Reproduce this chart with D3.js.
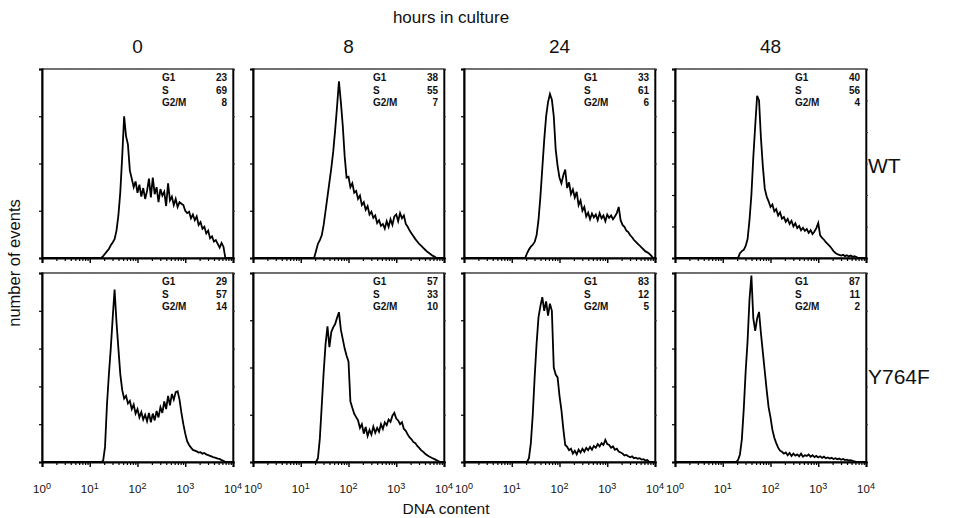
<!DOCTYPE html>
<html>
<head>
<meta charset="utf-8">
<script src="https://cdn.jsdelivr.net/npm/d3@7"></script>
<style>
  html, body { margin: 0; padding: 0; background: #fff; }
  svg { display: block; font-family: "Liberation Sans", Arial, Helvetica, sans-serif; }
</style>
</head>
<body>
<svg id="chart" width="961" height="518"></svg>
<script>
// Time points (columns) and strains (rows)
const hours = ["0", "8", "24", "48"];
const strains = ["WT", "Y764F"];

// Cell-cycle phase percentages shown inside each histogram
const phaseLabels = ["G1", "S", "G2/M"];
const phaseWT    = [[23, 69, 8], [38, 55, 7], [33, 61, 6], [40, 56, 4]];
const phaseY764F = [[29, 57, 14], [57, 33, 10], [83, 12, 5], [87, 11, 2]];

// DNA content axis (log10 decades) and count axis tick step
const xDecades = [0, 1, 2, 3, 4];
const yTickStep = 100;
const yMaxWT    = [400, 400, 400, 600];
const yMaxY764F = [500, 400, 400, 500];

// Histogram channels: first channel (log10 DNA content) and channel width
const binWidth = 0.04;
const startWT    = [1.24, 1.28, 1.28, 1.32];
const startY764F = [1.24, 1.28, 1.32, 1.28];

// Event counts per channel
const countsWT0 = [0,4,9,14,19,27,33,40,58,90,140,215,300,258,240,185,168,150,162,138,155,130,148,125,142,168,128,170,135,150,118,146,132,140,110,158,122,130,112,125,108,118,115,112,100,95,98,84,92,80,88,70,76,62,66,52,58,42,46,35,38,30,22,32,24,0];
const countsWT8 = [0,15,30,38,48,70,100,130,160,190,225,270,320,374,330,280,215,170,172,150,158,138,142,125,132,112,118,102,110,92,98,85,90,74,80,68,72,62,78,66,82,70,88,92,78,95,84,90,72,66,58,52,46,40,35,30,26,22,18,14,11,8,5,3,0];
const countsWT24 = [0,10,18,24,28,34,48,80,130,190,250,300,330,347,335,300,230,195,170,158,175,187,148,160,135,145,128,140,112,122,100,108,88,96,82,94,86,92,80,95,84,90,78,92,85,90,82,88,95,108,80,70,66,58,55,48,44,38,34,30,26,22,18,14,12,9,5,0];
const countsWT48 = [0,15,22,26,38,60,120,200,320,420,515,500,380,290,220,195,180,162,170,148,155,135,145,125,130,115,124,108,118,100,110,95,102,88,96,86,92,80,88,76,84,95,111,72,64,58,50,44,38,30,22,16,12,10,8,10,6,9,5,8,4,6,3,0];
const countsY0 = [0,3,40,150,230,300,380,456,370,300,232,190,168,175,155,162,140,152,128,140,118,132,112,125,108,130,105,128,110,135,118,145,130,160,140,175,150,180,165,185,187,165,130,100,75,55,45,38,32,30,28,25,26,22,24,20,18,16,14,12,11,9,8,5,3,0];
const countsY8 = [0,0,8,50,120,190,250,287,243,275,285,292,305,317,280,260,240,225,213,128,115,102,95,88,72,80,60,74,55,68,58,75,62,72,64,80,70,84,78,90,85,98,104,92,88,80,84,70,66,58,52,48,42,40,34,30,25,22,18,15,12,10,8,6,4,2,0];
const countsY24 = [0,8,40,100,180,250,306,330,349,320,340,310,335,320,200,185,179,140,110,70,36,32,25,28,18,24,16,26,20,28,22,30,25,32,26,34,30,38,33,40,36,47,38,36,30,33,26,28,22,20,18,14,15,12,10,12,8,9,7,8,5,6,3,4,0];
const countsY48 = [0,5,20,60,140,240,320,430,493,380,347,380,397,340,290,240,190,145,118,85,64,50,38,30,27,22,25,18,24,16,22,17,20,15,22,14,18,16,20,14,18,13,16,12,15,11,14,10,12,9,11,8,10,7,9,6,8,5,6,4,5,3,2,0];

// Assemble panel descriptors from the arrays above
const panels = [];
const rowsData = [
  { strain: "WT",    phases: phaseWT,    yMax: yMaxWT,    start: startWT,    counts: [countsWT0, countsWT8, countsWT24, countsWT48] },
  { strain: "Y764F", phases: phaseY764F, yMax: yMaxY764F, start: startY764F, counts: [countsY0, countsY8, countsY24, countsY48] }
];
rowsData.forEach((r, ri) => {
  hours.forEach((h, ci) => {
    panels.push({
      row: ri, col: ci, hour: h,
      phases: r.phases[ci], yMax: r.yMax[ci],
      points: r.counts[ci].map((c, i) => ({ x: Math.pow(10, r.start[ci] + i * binWidth), y: c }))
    });
  });
});

// Layout: 4 columns of 191px panels, 2 rows of 189px panels
const panelW = 191, panelH = 189;
const colGap = 20, rowGap = 15;
const colLeft = d3.scaleBand().domain(hours)
  .range([42, 42 + 4 * panelW + 3 * colGap])
  .paddingInner(colGap / (panelW + colGap));
const rowTop = d3.scaleBand().domain(strains)
  .range([69, 69 + 2 * panelH + rowGap])
  .paddingInner(rowGap / (panelH + rowGap));

const svg = d3.select("#chart");

panels.forEach(p => {
  const x0 = colLeft(p.hour);
  const y0 = rowTop(strains[p.row]);
  const g = svg.append("g").attr("transform", `translate(${x0},${y0})`);

  const x = d3.scaleLog().domain([1, 1e4]).range([0, panelW]);
  const y = d3.scaleLinear().domain([0, p.yMax]).range([panelH, 0]);

  // Frame
  g.append("rect")
    .attr("x", 0).attr("y", 0).attr("width", panelW).attr("height", panelH)
    .attr("fill", "none").attr("stroke", "#111").attr("stroke-width", 1.2);

  // Faint dotted marks along the top edge
  g.append("line")
    .attr("x1", 0).attr("x2", panelW).attr("y1", 0.5).attr("y2", 0.5)
    .attr("stroke", "#777").attr("stroke-width", 1).attr("stroke-dasharray", "1,2");

  // Histogram trace
  const line = d3.line().x(d => x(d.x)).y(d => y(d.y)).curve(d3.curveLinear);
  const pts = [{ x: 1, y: 0 }].concat(p.points, [{ x: 1e4, y: 0 }]);
  g.append("path")
    .datum(pts)
    .attr("d", line)
    .attr("fill", "none")
    .attr("stroke", "#000")
    .attr("stroke-width", 1.8)
    .attr("stroke-linejoin", "miter");

  // Count axis ticks (left, outward) and right-edge ticks
  const yTicks = d3.range(0, p.yMax + 1, yTickStep);
  const yl = g.append("g").call(d3.axisLeft(y).tickValues(yTicks).tickSize(3).tickFormat(""));
  yl.select(".domain").attr("stroke", "#000").attr("stroke-width", 2);
  yl.selectAll(".tick line").attr("stroke", "#000").attr("stroke-width", 1.2);

  const yr = g.append("g").attr("transform", `translate(${panelW},0)`)
    .call(d3.axisRight(y).tickValues(yTicks).tickSize(2).tickFormat(""));
  yr.select(".domain").attr("stroke", "#000").attr("stroke-width", 1.6);
  yr.selectAll(".tick line").attr("stroke", "#333").attr("stroke-width", 1);

  // DNA content axis: minor log ticks plus decade ticks
  const minor = x.ticks().filter(v => !xDecades.includes(Math.round(Math.log10(v) * 1000) / 1000));
  const xm = g.append("g").attr("transform", `translate(0,${panelH})`)
    .call(d3.axisBottom(x).tickValues(minor).tickSize(3).tickFormat(""));
  xm.select(".domain").remove();
  xm.selectAll(".tick line").attr("stroke", "#000").attr("stroke-width", 1.2);

  const xM = g.append("g").attr("transform", `translate(0,${panelH})`)
    .call(d3.axisBottom(x).tickValues(xDecades.map(d => Math.pow(10, d))).tickSize(5).tickFormat(""));
  xM.select(".domain").attr("stroke", "#000").attr("stroke-width", 2);
  xM.selectAll(".tick line").attr("stroke", "#000").attr("stroke-width", 1.4);

  // Decade labels on the bottom row
  if (p.row === strains.length - 1) {
    xDecades.forEach(d => {
      const t = g.append("text")
        .attr("x", x(Math.pow(10, d)))
        .attr("y", panelH + 31)
        .attr("text-anchor", "middle")
        .attr("font-size", 11.5)
        .attr("fill", "#111");
      t.append("tspan").text("10");
      t.append("tspan").attr("dy", -4).attr("font-size", 9).text(d);
    });
  }

  // Phase percentages
  const inset = g.append("g").attr("font-size", 10).attr("font-weight", "bold").attr("fill", "#111");
  phaseLabels.forEach((lab, i) => {
    inset.append("text").attr("x", 120).attr("y", 12 + i * 12.5).text(lab);
    inset.append("text").attr("x", panelW - 6).attr("y", 12 + i * 12.5)
      .attr("text-anchor", "end").text(p.phases[i]);
  });
});

// Column headings
hours.forEach(h => {
  svg.append("text")
    .attr("x", colLeft(h) + panelW / 2)
    .attr("y", 53)
    .attr("text-anchor", "middle")
    .attr("font-size", 19)
    .attr("fill", "#111")
    .text(h);
});

svg.append("text")
  .attr("x", 451).attr("y", 23)
  .attr("text-anchor", "middle")
  .attr("font-size", 17)
  .attr("fill", "#111")
  .text("hours in culture");

// Row labels
strains.forEach(s => {
  svg.append("text")
    .attr("x", 868)
    .attr("y", rowTop(s) + (s === "WT" ? 104 : 111))
    .attr("font-size", 21)
    .attr("fill", "#111")
    .text(s);
});

// Axis titles
svg.append("text")
  .attr("transform", "translate(20,263) rotate(-90)")
  .attr("text-anchor", "middle")
  .attr("font-size", 16.5)
  .attr("fill", "#111")
  .text("number of events");

svg.append("text")
  .attr("x", 446).attr("y", 514)
  .attr("text-anchor", "middle")
  .attr("font-size", 15.5)
  .attr("fill", "#111")
  .text("DNA content");
</script>
</body>
</html>
